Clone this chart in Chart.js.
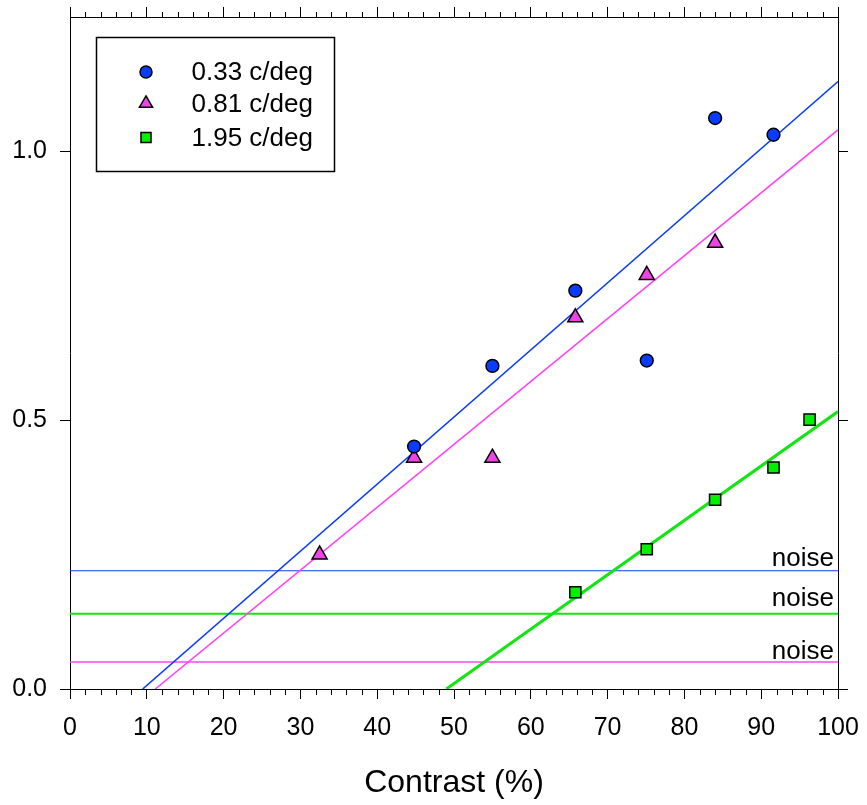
<!DOCTYPE html>
<html>
<head>
<meta charset="utf-8">
<script src="https://cdn.jsdelivr.net/npm/chart.js@4/dist/chart.umd.min.js"></script>
<style>
  html, body { margin: 0; padding: 0; background: #fff; }
  #wrap { width: 867px; height: 805px; position: relative; }
</style>
</head>
<body>
<div id="wrap"><canvas id="c" width="867" height="805"></canvas></div>
<script>
// ---- data ----
const seriesNames = ['0.33 c/deg', '0.81 c/deg', '1.95 c/deg'];
const contrastBlue = [44.8, 55.0, 65.8, 75.1, 84.0, 91.6];
const respBlue     = [0.451, 0.601, 0.741, 0.611, 1.062, 1.031];
const contrastPink = [32.5, 44.8, 55.0, 65.8, 75.1, 84.0];
const respPink     = [0.250, 0.430, 0.430, 0.691, 0.770, 0.830];
const contrastGreen = [65.8, 75.1, 84.0, 91.6, 96.3];
const respGreen     = [0.180, 0.260, 0.352, 0.412, 0.501];
// regression lines (endpoints)
const fitBlueX = [9.46, 100],  fitBlueY = [0, 1.130];
const fitPinkX = [11.1, 100],  fitPinkY = [0, 1.040];
const fitGreenX = [49.0, 100], fitGreenY = [0, 0.516];
// noise levels: blue, green, pink
const noiseLevels = [0.220, 0.140, 0.050];
const noiseLabelY = [0.228, 0.155, 0.056];
const noiseLabel = 'noise';
const xTicksMajor = [0, 10, 20, 30, 40, 50, 60, 70, 80, 90, 100];
const yTickLabels = ['0.0', '0.5', '1.0'];

// ---- styles ----
const BLUE = '#0a3cff', PINK = '#ff44f4', PINKFILL = '#ee44e6', GREEN = '#11e611', GREENFILL = '#00f000';
const FONT = "'Liberation Sans', Arial, Helvetica, sans-serif";

const pts = (xs, ys) => xs.map((x, i) => ({ x, y: ys[i] }));

const markerDefs = [
  { style: 'circle', fill: BLUE, r: 6.4, lr: 6 },
  { style: 'triangle', fill: PINKFILL, r: 8.7, lr: 7.6 },
  { style: 'rect', fill: GREENFILL, r: 7.9, lr: 7.1 }
];

function drawMarker(ctx, style, x, y, r, fill) {
  ctx.save();
  ctx.fillStyle = fill; ctx.strokeStyle = '#000'; ctx.lineWidth = 1.5;
  ctx.beginPath();
  if (style === 'circle') {
    ctx.arc(x, y, r, 0, Math.PI * 2);
  } else if (style === 'triangle') {
    ctx.moveTo(x, y - r);
    ctx.lineTo(x + r * Math.cos(Math.PI / 6), y + r / 2);
    ctx.lineTo(x - r * Math.cos(Math.PI / 6), y + r / 2);
    ctx.closePath();
  } else {
    const s = r * Math.SQRT1_2;
    ctx.rect(x - s, y - s, 2 * s, 2 * s);
  }
  ctx.fill(); ctx.stroke();
  ctx.restore();
}

const framePlugin = {
  id: 'frame',
  afterDraw(chart) {
    const { ctx, chartArea: ca, scales } = chart;
    ctx.save();
    // minor ticks on x (bottom and top)
    ctx.strokeStyle = '#000'; ctx.lineWidth = 1;
    const xs = scales.x;
    for (let v = xs.min; v <= xs.max + 1e-9; v += 2) {
      if (Math.abs(v % 10) < 1e-9) continue;
      const px = Math.round(xs.getPixelForValue(v)) + 0.5;
      ctx.beginPath();
      ctx.moveTo(px, ca.bottom); ctx.lineTo(px, ca.bottom + 6);
      ctx.moveTo(px, ca.top); ctx.lineTo(px, ca.top - 5);
      ctx.stroke();
    }
    // noise labels
    const ys = scales.y;
    ctx.fillStyle = '#000';
    ctx.font = '26px ' + FONT;
    ctx.textAlign = 'right'; ctx.textBaseline = 'alphabetic';
    noiseLabelY.forEach(v => {
      ctx.fillText(noiseLabel, xs.getPixelForValue(100) - 4, ys.getPixelForValue(v));
    });
    // legend
    const lx = ca.left + 26.5, ly = ca.top + 20.5, lw = 238, lh = 134;
    ctx.fillStyle = '#fff';
    ctx.fillRect(lx, ly, lw, lh);
    ctx.strokeStyle = '#000'; ctx.lineWidth = 1.5;
    ctx.strokeRect(lx, ly, lw, lh);
    const rowY = [34.5, 66, 100];
    ctx.font = '26px ' + FONT;
    ctx.textAlign = 'left'; ctx.textBaseline = 'middle';
    seriesNames.forEach((name, i) => {
      const m = markerDefs[i];
      drawMarker(ctx, m.style, lx + 49.5, ly + rowY[i], m.lr, m.fill);
      ctx.fillStyle = '#000';
      ctx.fillText(name, lx + 95, ly + rowY[i] + 1);
    });
    ctx.restore();
  }
};

const pointDS = (label, data, m) => ({
  label, data, showLine: false,
  pointStyle: m.style, pointRadius: m.r, pointHoverRadius: m.r,
  pointBackgroundColor: m.fill, pointBorderColor: '#000', pointBorderWidth: 1.5
});
const lineDS = (data, color, w) => ({
  data, showLine: true, pointRadius: 0, pointHoverRadius: 0,
  borderColor: color, borderWidth: w, fill: false, tension: 0
});

const xMin = 0, xMax = 100, yMin = 0, yMax = 1.25;
const noPad = s => { s.paddingLeft = 0; s.paddingRight = 0; s.paddingTop = 0; s.paddingBottom = 0; };

new Chart(document.getElementById('c'), {
  type: 'scatter',
  data: {
    datasets: [
      pointDS(seriesNames[0], pts(contrastBlue, respBlue), markerDefs[0]),
      pointDS(seriesNames[1], pts(contrastPink, respPink), markerDefs[1]),
      pointDS(seriesNames[2], pts(contrastGreen, respGreen), markerDefs[2]),
      lineDS(pts(fitBlueX, fitBlueY), BLUE, 1.6),
      lineDS(pts(fitPinkX, fitPinkY), PINK, 1.6),
      lineDS(pts(fitGreenX, fitGreenY), GREEN, 3),
      lineDS(pts([xMin, xMax], [noiseLevels[0], noiseLevels[0]]), BLUE, 1.2),
      lineDS(pts([xMin, xMax], [noiseLevels[1], noiseLevels[1]]), GREEN, 1.8),
      lineDS(pts([xMin, xMax], [noiseLevels[2], noiseLevels[2]]), PINK, 1.5)
    ]
  },
  options: {
    responsive: false,
    animation: false,
    events: [],
    layout: { padding: 0 },
    plugins: { legend: { display: false }, tooltip: { enabled: false }, title: { display: false } },
    scales: {
      x: {
        type: 'linear', position: 'bottom', min: xMin, max: xMax,
        afterBuildTicks: s => { s.ticks = xTicksMajor.map(v => ({ value: v })); },
        ticks: { font: { family: FONT, size: 25 }, color: '#000', padding: 14, maxRotation: 0, autoSkip: false },
        grid: { drawOnChartArea: false, drawTicks: true, tickLength: 10, tickColor: '#000', tickWidth: 1 },
        border: { display: true, color: '#000', width: 1 },
        title: { display: true, text: 'Contrast (%)', color: '#000', font: { family: FONT, size: 32 }, padding: { top: 0, bottom: 3 } },
        afterFit: s => { s.height = 116; noPad(s); }
      },
      x2: {
        type: 'linear', axis: 'x', position: 'top', min: xMin, max: xMax,
        afterBuildTicks: s => { s.ticks = xTicksMajor.map(v => ({ value: v })); },
        ticks: { display: false },
        grid: { drawOnChartArea: false, drawTicks: true, tickLength: 10, tickColor: '#000', tickWidth: 1 },
        border: { display: true, color: '#000', width: 1 },
        afterFit: s => { s.height = 17; noPad(s); }
      },
      y: {
        type: 'linear', position: 'left', min: yMin, max: yMax,
        afterBuildTicks: s => { s.ticks = yTickLabels.map(t => ({ value: parseFloat(t) })); },
        ticks: { font: { family: FONT, size: 25 }, color: '#000', padding: 13, callback: (v) => v.toFixed(1) },
        grid: { drawOnChartArea: false, drawTicks: true, tickLength: 10, tickColor: '#000', tickWidth: 1 },
        border: { display: true, color: '#000', width: 1 },
        afterFit: s => { s.width = 70; noPad(s); }
      },
      y2: {
        type: 'linear', axis: 'y', position: 'right', min: yMin, max: yMax,
        afterBuildTicks: s => { s.ticks = yTickLabels.map(t => ({ value: parseFloat(t) })); },
        ticks: { display: false },
        grid: { drawOnChartArea: false, drawTicks: true, tickLength: 10, tickColor: '#000', tickWidth: 1 },
        border: { display: true, color: '#000', width: 1 },
        afterFit: s => { s.width = 29; noPad(s); }
      }
    }
  },
  plugins: [framePlugin]
});
</script>
</body>
</html>
